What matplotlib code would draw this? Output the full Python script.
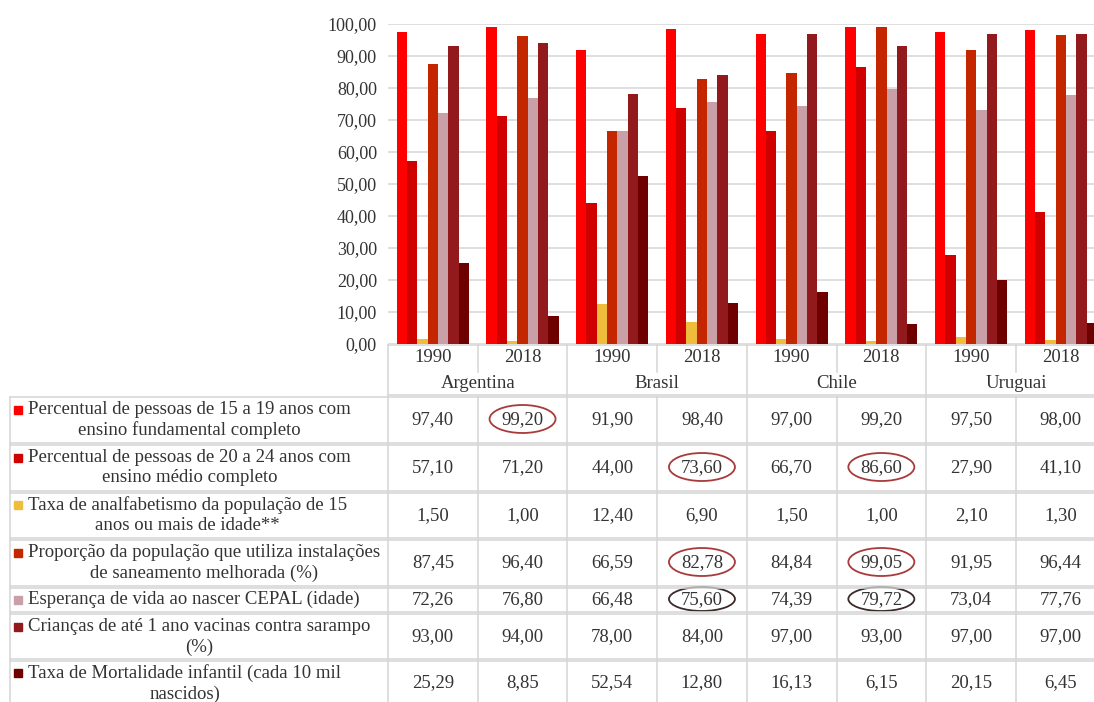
import numpy as np
import matplotlib.pyplot as plt
from matplotlib.patches import Rectangle, Ellipse

plt.rcParams['font.family'] = ['Liberation Serif', 'DejaVu Serif']

# dados
paises = ['Argentina', 'Brasil', 'Chile', 'Uruguai']
anos = ['1990', '2018']
series = [
    'Percentual de pessoas de 15 a 19 anos com\nensino fundamental completo',
    'Percentual de pessoas de 20 a 24 anos com\nensino médio completo',
    'Taxa de analfabetismo da população de 15\nanos ou mais de idade**',
    'Proporção da população que utiliza instalações\nde saneamento melhorada (%)',
    'Esperança de vida ao nascer CEPAL (idade)',
    'Crianças de até 1 ano vacinas contra sarampo\n(%)',
    'Taxa de Mortalidade infantil (cada 10 mil\nnascidos)',
]
# colunas: Arg 1990, Arg 2018, Bra 1990, Bra 2018, Chi 1990, Chi 2018, Uru 1990, Uru 2018
fundamental = [97.40, 99.20, 91.90, 98.40, 97.00, 99.20, 97.50, 98.00]
medio = [57.10, 71.20, 44.00, 73.60, 66.70, 86.60, 27.90, 41.10]
analfabetismo = [1.50, 1.00, 12.40, 6.90, 1.50, 1.00, 2.10, 1.30]
saneamento = [87.45, 96.40, 66.59, 82.78, 84.84, 99.05, 91.95, 96.44]
esperanca = [72.26, 76.80, 66.48, 75.60, 74.39, 79.72, 73.04, 77.76]
vacinas = [93.00, 94.00, 78.00, 84.00, 97.00, 93.00, 97.00, 97.00]
mortalidade = [25.29, 8.85, 52.54, 12.80, 16.13, 6.15, 20.15, 6.45]
valores = [fundamental, medio, analfabetismo, saneamento, esperanca, vacinas, mortalidade]
cores = ['#ff0000', '#cf0000', '#f0bc3c', '#c42600', '#c9a0a8', '#921a1c', '#6e0000']

# celulas circuladas (serie, coluna, cor)
destaques = [(0, 1, '#a83a3a'), (1, 3, '#a83a3a'), (1, 5, '#a83a3a'),
             (3, 3, '#a83a3a'), (3, 5, '#a83a3a'), (4, 3, '#3a2a2a'), (4, 5, '#3a2a2a')]

W, H = 1094, 702
fig = plt.figure(figsize=(W / 100, H / 100), dpi=100)

# area do grafico em pixels
x0, colw = 388, 89.7
ytop, ybot = 24, 344
ncol = 8
ax = fig.add_axes([x0 / W, 1 - ybot / H, ncol * colw / W, (ybot - ytop) / H])

n = len(valores)
bw = 0.115
x = np.arange(ncol)
for i, (v, c) in enumerate(zip(valores, cores)):
    ax.bar(x + (i - (n - 1) / 2) * bw, v, width=bw, color=c, edgecolor='none', zorder=3)

ax.set_xlim(-0.5, ncol - 0.5)
ax.set_ylim(0, 100)
ax.set_yticks(np.arange(0, 101, 10))
ax.set_yticklabels([f'{t:.2f}'.replace('.', ',') for t in np.arange(0, 101, 10)],
                   fontsize=13, color='#333333')
ax.tick_params(axis='y', length=0, pad=8)
ax.set_xticks([])
ax.grid(axis='y', color='#d9d9d9', linewidth=1.2, zorder=0)
for s in ax.spines.values():
    s.set_visible(False)

# tabela de dados, em coordenadas de pixel
tab = fig.add_axes([0, 0, 1, 1], zorder=5)
tab.set_xlim(0, W)
tab.set_ylim(H, 0)
tab.axis('off')
tab.patch.set_alpha(0)

linha = dict(color='#d4d4d4', linewidth=1.1)
txt = '#333333'
xr = x0 + ncol * colw
col_x = [x0 + k * colw for k in range(ncol + 1)]

# cabecalho
tab.plot([x0, xr], [345, 345], **linha)
tab.plot([x0, xr], [395, 395], **linha)
for k, cx in enumerate(col_x):
    if k % 2 == 0:
        tab.plot([cx, cx], [345, 395], **linha)
    else:
        tab.plot([cx, cx], [345, 372], **linha)
for k in range(ncol):
    tab.text(x0 + (k + 0.5) * colw, 358, anos[k % 2], ha='center', va='center',
             fontsize=13.5, color=txt)
for p, nome in enumerate(paises):
    tab.text(x0 + (2 * p + 1) * colw, 383, nome, ha='center', va='center',
             fontsize=13.5, color=txt)

# linhas dos dados
limites = [(397, 443), (445, 491), (493, 538), (540, 586), (588, 612), (614, 659), (661, 720)]
titulo_y = [410, 458, 505, 553, 600, 627, 673]
for i, (top, bot) in enumerate(limites):
    tab.plot([10, xr], [top, top], **linha)
    tab.plot([10, xr], [bot, bot], **linha)
    for cx in [10] + col_x:
        tab.plot([cx, cx], [top, bot], **linha)
    tab.add_patch(Rectangle((14, titulo_y[i] - 4.5), 8, 8, color=cores[i]))
    tab.text(28, titulo_y[i] - 9, series[i], ha='left', va='top', multialignment='center',
             fontsize=13.5, color=txt, linespacing=1.25)
    yc = (top + bot) / 2 if i < n - 1 else 683
    for k in range(ncol):
        tab.text(x0 + (k + 0.5) * colw, yc, f'{valores[i][k]:.2f}'.replace('.', ','),
                 ha='center', va='center', fontsize=13.5, color=txt)

for i, k, c in destaques:
    top, bot = limites[i]
    yc = (top + bot) / 2
    alto = 28 if bot - top > 30 else 24
    tab.add_patch(Ellipse((x0 + (k + 0.5) * colw, yc - 1), 66, alto, fill=False,
                          edgecolor=c, linewidth=1.3))

fig.savefig('out.png', dpi=100)
